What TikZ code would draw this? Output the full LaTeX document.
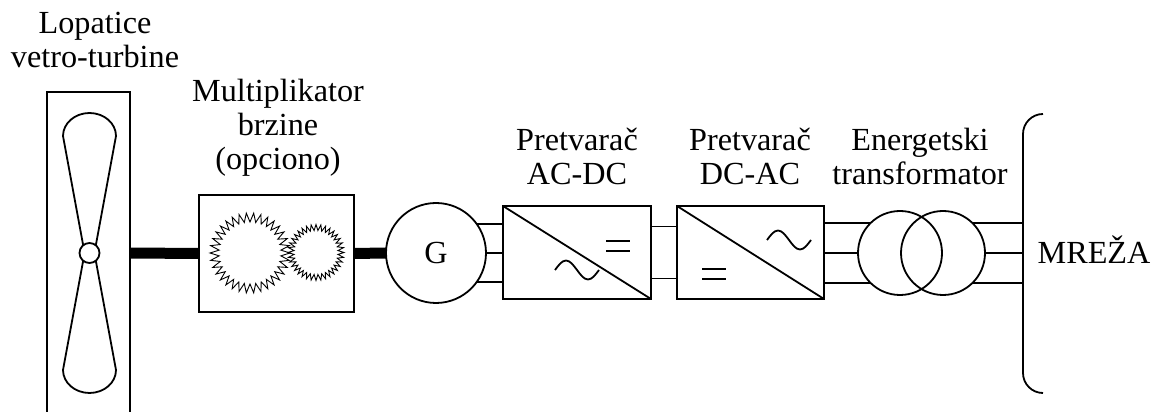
\documentclass[tikz,border=0pt]{standalone}
\usepackage{fontspec}
\setmainfont{Liberation Serif}
\usetikzlibrary{positioning, calc}
\tikzstyle{block} = [rectangle, draw=black, line width=1.8pt, inner sep=0pt, outer sep=0pt]
\tikzstyle{machine} = [circle, draw=black, line width=1.8pt, inner sep=0pt, outer sep=0pt, font=\fontsize{32.2}{34}\selectfont]
\tikzstyle{caption} = [align=center, inner sep=0pt, anchor=base, font=\fontsize{32.2}{34}\selectfont]
\tikzstyle{shaft} = [line width=11pt]
\tikzstyle{wire} = [line width=1.8pt]
% zupcanik: centar, spoljni r, unutrasnji r, broj zubaca
\newcommand{\gearwheel}[4]{%
  \draw[line width=0.9pt, shift={#1}] (0:#2) \foreach \k in {1,...,#4} {-- ({(\k-0.5)*360/#4}:#3) -- ({\k*360/#4}:#2)} -- cycle;}

\begin{document}
\begin{tikzpicture}[x=1pt, y=1pt, line width=1.8pt]
      \useasboundingbox (0,0) rectangle (1156,412);

      % vetro-turbina
      \draw (47,0) |- (130,320) -- (130,0);
      \draw (84.6,159) -- (63,42) arc[start angle=180, end angle=360, x radius=26.5, y radius=23] -- (94.4,159);
      \draw (94.4,159) -- (116,276) arc[start angle=0, end angle=180, x radius=26.5, y radius=23] -- (84.6,159);
      \node[machine, fill=white, minimum size=20pt] (hub) at (89.5,159) {};
      \coordinate (rotor) at (130,159);

      % blokovi
      \node[block, minimum width=155pt, minimum height=117pt] (gearbox) at (276.5,158.5) {};
      \node[machine, fill=white, minimum size=100pt] (gen) at (436,159) {G};
      \node[block, minimum width=148pt, minimum height=93pt] (acdc) at (577,159.5) {};
      \node[block, minimum width=147pt, minimum height=93pt] (dcac) at (750.5,159.5) {};
      \node[machine, minimum size=84pt] (prim) at (900,159) {};
      \node[machine, minimum size=84pt] (sec) at (943,159) {};
      \coordinate (grid) at (1023,159);

      % zupcanici
      \gearwheel{(250,159)}{40}{31}{34}
      \gearwheel{(316,159.5)}{28}{22}{36}

      % pretvaraci
      \draw (acdc.north west) -- (acdc.south east);
      \draw (dcac.north west) -- (dcac.south east);
      \draw[shift={(acdc.center)}] (-22,-17.5) sin (-11,-8) cos (0,-17.5) sin (11,-27) cos (22,-17.5);
      \draw[shift={(acdc.center)}] (29,11.5) -- (53,11.5) (29,1.5) -- (53,1.5);
      \draw[shift={(dcac.center)}] (-48.5,-16.5) -- (-24.5,-16.5) (-48.5,-26.5) -- (-24.5,-26.5);
      \draw[shift={(dcac.center)}] (16.5,12.5) sin (27.5,22) cos (38.5,12.5) sin (49.5,3) cos (60.5,12.5);

      % vratila
      \draw[shaft] (rotor) -- (gearbox.west);
      \draw[shaft] (gearbox.east) -- (gen.west);

      % veze
      \draw[wire] (gen.36.87) -- (gen.36.87 -| acdc.west);
      \draw[wire] (gen.east) -- (gen.east -| acdc.west);
      \draw[wire] (gen.-36.87) -- (gen.-36.87 -| acdc.west);
      \draw[wire] ([yshift=26pt]acdc.east) -- ([yshift=26pt]dcac.west);
      \draw[wire] ([yshift=-26pt]acdc.east) -- ([yshift=-26pt]dcac.west);
      \draw[wire] (dcac.east |- prim.134.42) -- (prim.134.42);
      \draw[wire] (dcac.east |- prim.west) -- (prim.west);
      \draw[wire] (dcac.east |- prim.-134.42) -- (prim.-134.42);
      \draw[wire] (sec.45.58) -- (sec.45.58 -| grid);
      \draw[wire] (sec.east) -- (grid);
      \draw[wire] (sec.-45.58) -- (sec.-45.58 -| grid);

      % mreza
      \draw[rounded corners=20pt] (1043,298) -| (grid) |- (1043,19);
      \node[caption] (mreza) at (1094,148) {MREŽA};

      % natpisi
      \node[caption] (lblturbine) at (95,344) {Lopatice\\vetro-turbine};
      \node[caption] (lblgear) at (278,242) {Multiplikator\\brzine\\(opciono)};
      \node[caption] (lblacdc) at (577,227) {Pretvarač\\AC-DC};
      \node[caption] (lbldcac) at (750,227) {Pretvarač\\DC-AC};
      \node[caption] (lbltrans) at (920,227) {Energetski\\transformator};
    \end{tikzpicture}
\end{document}
